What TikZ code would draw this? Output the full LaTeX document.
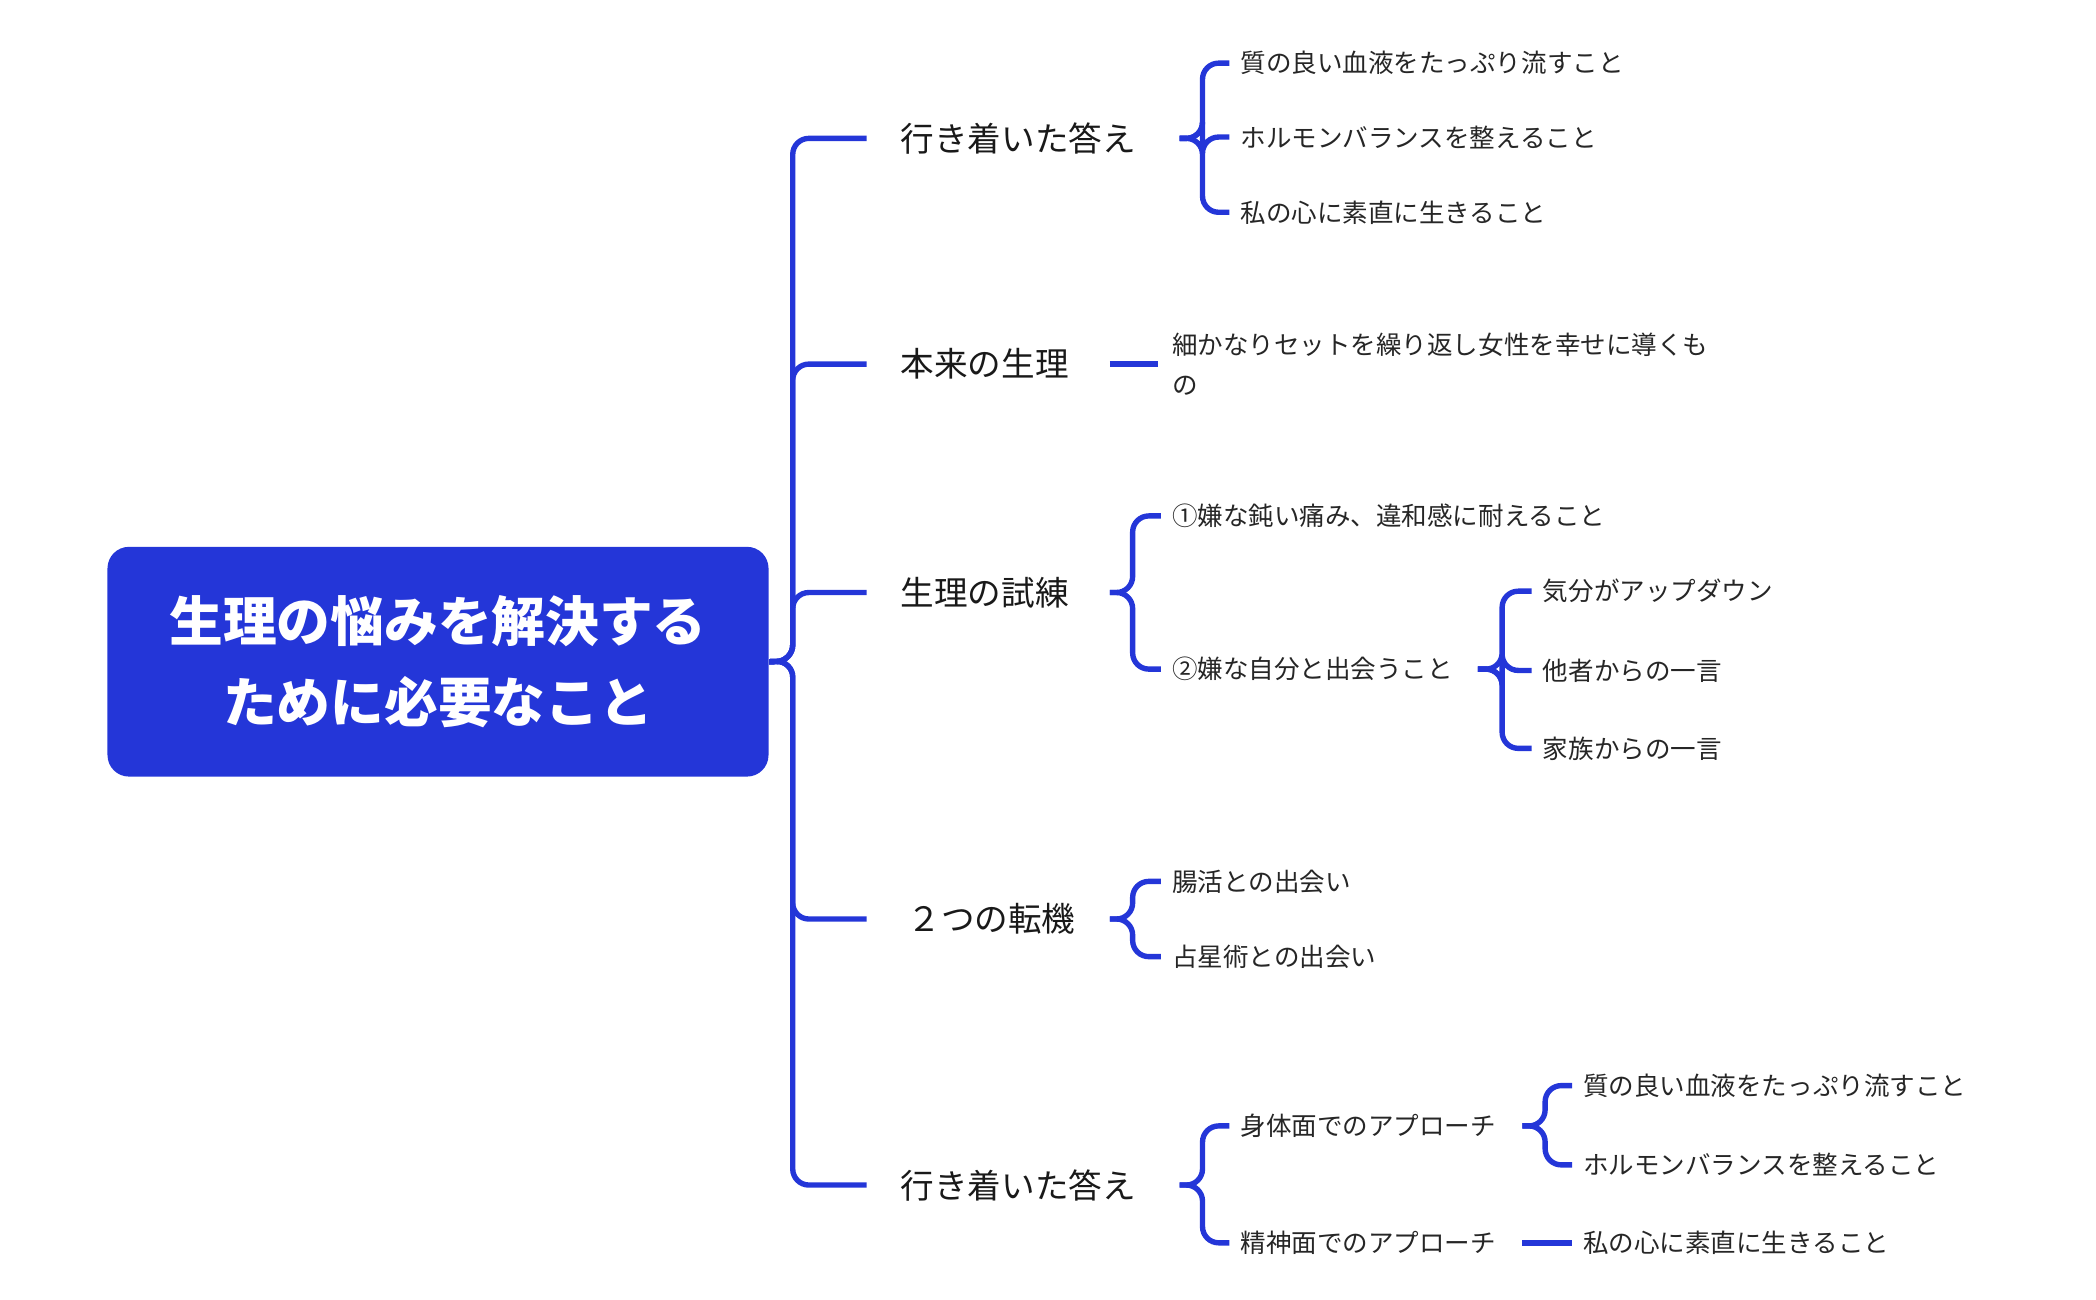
\documentclass[tikz,border=0pt]{standalone}
\usepackage{fontspec}
\setmainfont{Noto Sans CJK JP}
\begin{document}
\begin{tikzpicture}[x=0.5pt,y=-0.5pt,
  br/.style={draw=blue!80!black,line width=2pt,rounded corners=6pt},
  s/.style={anchor=west,inner sep=0pt,font=\fontsize{9.5}{15}\selectfont,text=black!85},
  m/.style={anchor=west,inner sep=0pt,font=\fontsize{12.5}{15}\selectfont,text=black!90}]
\definecolor{lc}{HTML}{2436D8}
\tikzset{br/.style={draw=lc,line width=2pt,rounded corners=6pt}}
\useasboundingbox (0,0) rectangle (1560,967.5);
\node[fill=lc,rounded corners=8pt,minimum width=246pt,minimum height=85.5pt,inner sep=0pt,
  text=white,font=\bfseries\fontsize{20}{30}\selectfont,align=center] (root) at (326,492.5)
  {生理の悩みを解決する\\ために必要なこと};
% level 1
\node[m] (a) at (670,103) {行き着いた答え};
\node[m] (b) at (670,271) {本来の生理};
\node[m] (c) at (670,441) {生理の試練};
\node[m] (d) at (675,684) {２つの転機};
\node[m] (e) at (670,882) {行き着いた答え};
\foreach \n/\y in {a/103,b/271,c/441,d/684,e/882}
  \draw[br] (root.east) -- (590,492) |- (645,\y);
% branch a
\node[s] (a1) at (923,47) {質の良い血液をたっぷり流すこと};
\node[s] (a2) at (923,102) {ホルモンバランスを整えること};
\node[s] (a3) at (923,158) {私の心に素直に生きること};
\foreach \n in {a1,a2,a3} \draw[br] (878,103) -- (895,103) |- (915,0|-\n.west);
% branch b
\node[s,align=left] (b1) at (872,271) {細かなりセットを繰り返し女性を幸せに導くも\\の};
\draw[br] (826,271) -- (862,271);
% branch c
\node[s] (c1) at (872,384) {①嫌な鈍い痛み、違和感に耐えること};
\node[s] (c2) at (872,498) {②嫌な自分と出会うこと};
\foreach \n in {c1,c2} \draw[br] (826,441) -- (843,441) |- (864,0|-\n.west);
\node[s] (c21) at (1148,440) {気分がアップダウン};
\node[s] (c22) at (1148,499) {他者からの一言};
\node[s] (c23) at (1148,557) {家族からの一言};
\foreach \n in {c21,c22,c23} \draw[br] (1100,498) -- (1118,498) |- (1140,0|-\n.west);
% branch d
\node[s] (d1) at (872,656) {腸活との出会い};
\node[s] (d2) at (872,712) {占星術との出会い};
\foreach \n in {d1,d2} \draw[br] (826,684) -- (843,684) |- (864,0|-\n.west);
% branch e
\node[s] (e1) at (923,838) {身体面でのアプローチ};
\node[s] (e2) at (923,925) {精神面でのアプローチ};
\foreach \n in {e1,e2} \draw[br] (878,882) -- (895,882) |- (915,0|-\n.west);
\node[s] (e11) at (1178,808) {質の良い血液をたっぷり流すこと};
\node[s] (e12) at (1178,867) {ホルモンバランスを整えること};
\foreach \n in {e11,e12} \draw[br] (1133,838) -- (1150,838) |- (1170,0|-\n.west);
\node[s] (e21) at (1178,925) {私の心に素直に生きること};
\draw[br] (1133,925) -- (1170,925);
\end{tikzpicture}
\end{document}
